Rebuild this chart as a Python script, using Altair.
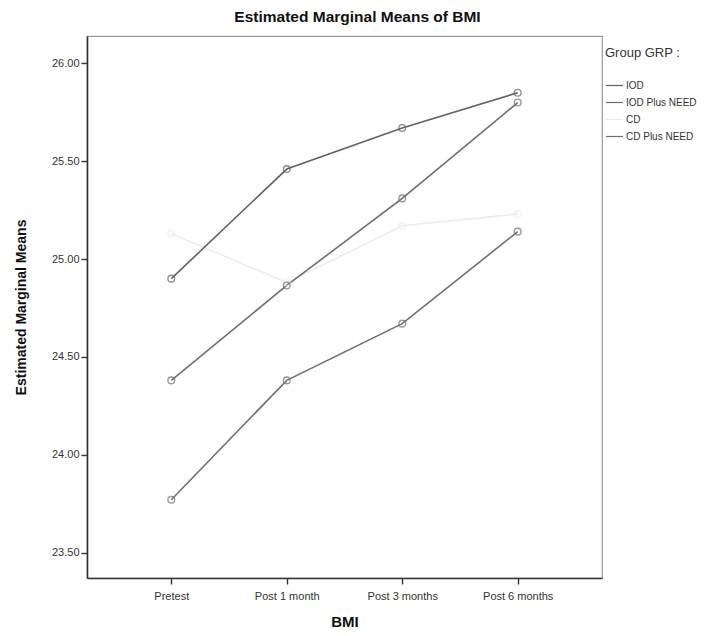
import altair as alt
import pandas as pd

times = ["Pretest", "Post 1 month", "Post 3 months", "Post 6 months"]
groups = ["IOD", "IOD Plus NEED", "CD", "CD Plus NEED"]
iod = [24.90, 25.46, 25.67, 25.85]
iod_plus_need = [24.38, 24.865, 25.31, 25.80]
cd = [25.13, 24.88, 25.17, 25.23]
cd_plus_need = [23.77, 24.38, 24.67, 25.14]
y_ticks = [23.5, 24.0, 24.5, 25.0, 25.5, 26.0]

series = {"CD": cd, "IOD": iod, "IOD Plus NEED": iod_plus_need, "CD Plus NEED": cd_plus_need}
rows = []
for g, vals in series.items():
    for t, v in zip(times, vals):
        rows.append({"time": t, "group": g, "mean": v})
df = pd.DataFrame(rows)

FONT = "Liberation Sans"
palette = ["#626262", "#6e6e6e", "#ececec", "#707070"]

x = alt.X("time:N", sort=times, title="BMI",
          scale=alt.Scale(type="point", padding=0.73),
          axis=alt.Axis(labelAngle=0, titlePadding=13, labelPadding=6))
y = alt.Y("mean:Q", title="Estimated Marginal Means",
          scale=alt.Scale(domain=[23.37, 26.14], nice=False, zero=False),
          axis=alt.Axis(values=y_ticks, format=".2f", titlePadding=23, labelPadding=2))
color = alt.Color("group:N", sort=groups,
                  scale=alt.Scale(domain=groups, range=palette),
                  legend=alt.Legend(title="Group GRP :", orient="none", legendX=518, legendY=11,
                                    symbolType="stroke", symbolSize=289, symbolStrokeWidth=1.2,
                                    rowPadding=2, labelOffset=2, titlePadding=16))

lines = alt.Chart(df).mark_line(strokeWidth=1.6).encode(x=x, y=y, color=color, detail="group:N")
points = alt.Chart(df).mark_point(shape="circle", filled=False, size=45, strokeWidth=1.4).encode(
    x=x, y=y, color=alt.Color("group:N", sort=groups, legend=None,
                              scale=alt.Scale(domain=groups, range=palette)))

chart = alt.layer(lines, points).properties(
    width=515, height=542,
    title=alt.TitleParams("Estimated Marginal Means of BMI", fontSize=15.5, font=FONT, fontWeight="bold",
                          color="#111111", anchor="middle", dx=13, offset=11),
    autosize=alt.AutoSizeParams(type="none"),
    padding={"left": 79, "top": 28, "right": 113, "bottom": 54},
).configure_view(stroke="#9a9a9a", strokeWidth=1.2).configure_axis(
    grid=False, domainColor="#333333", domainWidth=1.6, tickColor="#333333", tickSize=6, tickWidth=1.4,
    labelFont=FONT, labelFontSize=11, labelColor="#333333",
    titleFont=FONT, titleFontSize=14, titleFontWeight="bold", titleColor="#111111",
).configure_axisX(titleFontSize=15).configure_legend(
    titleFont=FONT, titleFontSize=13, titleFontWeight="normal", titleColor="#333333",
    labelFont=FONT, labelFontSize=10, labelColor="#333333"
)

chart.save("out.html", embed_options={"renderer": "svg", "actions": False})
